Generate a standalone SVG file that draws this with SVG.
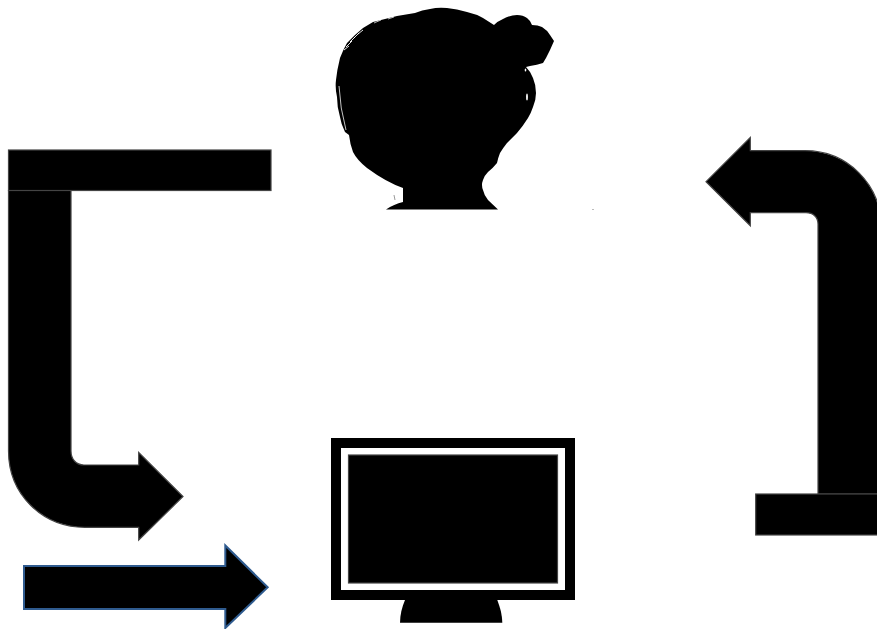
<svg xmlns="http://www.w3.org/2000/svg" width="877" height="629" viewBox="0 0 877 629">
<style>
.shape{fill:#000;stroke:#444;stroke-width:1.2}
.blue{fill:#000;stroke:#2f5b8f;stroke-width:2}
.solid{fill:#000}
.gap{fill:#fff}
.strand{fill:none;stroke:#fff}
</style>
<rect width="877" height="629" fill="#fff"/>
<g id="person">
<path class="solid" d="M386 209.500 Q394 204 403 202 L403 188 Q386 182 367 168 Q357 160 353 152 Q350 144 349 135 L345 132 Q341 124 340 117 Q337 107 337 97 Q335 88 336 80 Q337 70 340 58 Q343 50 347 43 L355 35 L363 28 L373 22 L397 16 L415 13 Q422 10 430 9 Q438 7 447 8 Q457 9 467 12 Q476 14 483 18 L494 25 Q498 21 503 19 Q510 15 517 15 Q523 15 527 18 Q531 21 532 25 Q538 25 542 27 Q547 30 550 35 L554 41 L550 50 L546 58 L543 63 Q537 65 530 66 L526 67 Q531 72 533 78 Q536 85 536 93 Q536 100 533 107 Q531 113 528 118 Q523 126 517 133 L507 143 Q503 148 500 153 Q498 158 497 163 Q493 168 488 172 Q484 176 483 180 Q481 185 483 190 Q484 195 488 200 L498 209.500 Z"/>
<path fill="none" stroke="#c4c4c4" stroke-width="1" d="M339 86 Q340 108 346 130"/>
<path class="strand" stroke-width="0.900" d="M344 50 L349 46 M346 47 L352 41 M350 42 L355 37 M354 38 L359 33 M358 34 L363 30"/>
<path class="strand" stroke-width="0.700" d="M374 23 L381 20 M388 19 L394 17"/>
<ellipse class="gap" cx="527" cy="97" rx="0.900" ry="3.500"/>
<ellipse class="gap" cx="525.500" cy="70" rx="0.800" ry="1.500"/>
<path d="M394 195 L395 200" fill="none" stroke="#555" stroke-width="0.600"/>
<path d="M592 209.500 L594 209.500" fill="none" stroke="#aaa" stroke-width="0.800"/>
</g>
<g id="monitor">
<rect class="solid" x="331" y="438" width="244" height="162"/>
<rect class="gap" x="341" y="448" width="224" height="142"/>
<rect class="shape" x="348.500" y="455" width="209" height="128"/>
<path class="solid" d="M405 600 C402 607 400 615 400 622.700 L502.300 622.700 C502.300 615 500 607 497.300 600 Z"/>
</g>
<g id="connectors">
<g id="connector-left">
<path class="shape" d="M8.500 190.500 L71 190.500 L71 451 C71 459 76 465 84 465 L138.700 465 L138.700 452.500 L183 496.500 L138.700 540 L138.700 527.300 L85 527.300 C42 527.300 8.500 494 8.500 451 Z"/>
<rect class="shape" x="8.500" y="150" width="262.500" height="40.500"/>
</g>
<g id="connector-right">
<path class="shape" d="M881 494 L818 494 L818 224 C818 217 813 212.700 806 212.700 L750.300 212.700 L750.300 225.700 L706 181.700 L750.300 137.500 L750.300 150.700 L805 150.700 C847 150.700 881 184 881 226 Z"/>
<rect class="shape" x="755.700" y="494" width="140" height="41"/>
</g>
<path id="connector-input" class="blue" d="M24 566 L225.300 566 L225.300 545.500 L267.700 587.300 L225.300 628 L225.300 609 L24 609 Z"/>
</g>
</svg>
